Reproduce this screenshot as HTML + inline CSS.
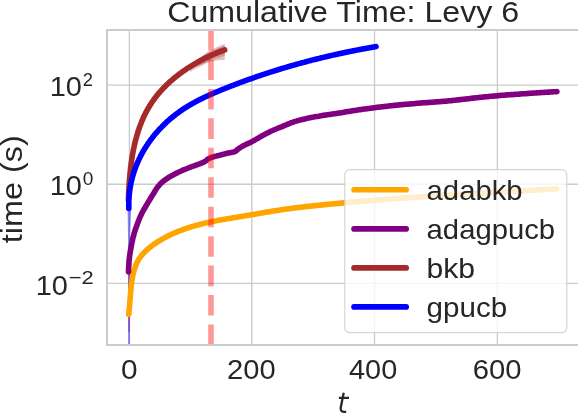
<!DOCTYPE html>
<html><head><meta charset="utf-8"><style>html,body{margin:0;padding:0;background:#fff}svg{display:block}text{font-family:"Liberation Sans",sans-serif;fill:#262626;filter:grayscale(1)}</style></head><body>
<svg width="578" height="418" viewBox="0 0 578 418">
<rect width="578" height="418" fill="#fff"/>
<defs><clipPath id="ax"><rect x="107" y="30" width="472" height="315"/></clipPath></defs>
<path d="M129.4,30V345M251.8,30V345M374.5,30V345M497.4,30V345M107,85.1H579M107,184.2H579M107,283.4H579" stroke="#cccccc" stroke-width="1.4" fill="none"/>
<g clip-path="url(#ax)" fill="none" stroke-linecap="round" stroke-linejoin="round" stroke-width="5.6">
<path d="M190,66 L198,60.5 L205,53.8 L211,50 L218,46.5 L224.8,43.8 L224.8,59.7 L218,60.3 L211.5,61.5 L206,63.5 L201,66 L195,69 L190,72 Z" fill="#a52a2a" fill-opacity="0.3" stroke="none"/>
<path d="M198,59 L203,55.5 L211,51.3 L224.8,45.3 L224.8,55.8 L211,60 L202,64.5 L198,66 Z" fill="#a52a2a" fill-opacity="0.3" stroke="none"/>
<path d="M127.5,206 L131.3,206 L130.6,222 L129.9,240 L129.9,345 L128.1,345 L128.1,240 Z" fill="#0000ff" fill-opacity="0.45" stroke="none"/>
<rect x="128.1" y="272" width="1.8" height="59.6" fill="#800080" fill-opacity="0.35" stroke="none"/>
<path d="M128.7,314.4 L128.9,313.3 L129.0,312.1 L129.1,310.9 L129.2,309.7 L129.3,308.5 L129.5,307.3 L129.6,306.1 L129.7,304.8 L129.7,303.6 L129.8,302.4 L129.9,301.2 L130.0,300.0 L130.1,298.7 L130.2,297.5 L130.3,296.3 L130.4,295.1 L130.5,293.8 L130.6,292.6 L130.7,291.4 L130.8,290.2 L130.9,288.9 L131.0,287.7 L131.2,286.5 L131.3,285.2 L131.4,284.0 L131.6,282.8 L131.8,281.6 L132.0,280.4 L132.2,279.1 L132.4,277.9 L132.6,276.7 L132.8,275.5 L133.1,274.3 L133.4,273.1 L133.7,271.9 L134.0,270.7 L134.3,269.6 L134.7,268.4 L135.1,267.3 L135.5,266.1 L135.9,265.0 L136.4,263.9 L136.9,262.8 L137.4,261.7 L138.0,260.7 L138.6,259.6 L139.2,258.6 L139.9,257.6 L140.6,256.7 L141.3,255.7 L142.1,254.8 L142.9,253.9 L143.7,253.0 L144.5,252.1 L145.4,251.3 L146.3,250.5 L147.2,249.6 L148.1,248.8 L149.0,248.0 L150.0,247.3 L151.0,246.5 L152.0,245.8 L152.9,245.1 L153.9,244.3 L155.0,243.6 L156.0,242.9 L157.0,242.3 L158.0,241.6 L159.1,240.9 L160.1,240.3 L161.2,239.7 L162.2,239.1 L163.3,238.5 L164.4,237.9 L165.5,237.3 L166.6,236.7 L167.6,236.1 L168.7,235.6 L169.8,235.1 L171.0,234.5 L172.1,234.0 L173.2,233.5 L174.3,233.0 L175.4,232.5 L176.6,232.1 L177.7,231.6 L178.8,231.1 L180.0,230.7 L181.1,230.3 L182.3,229.8 L183.4,229.4 L184.6,229.0 L185.7,228.6 L186.9,228.2 L188.0,227.8 L189.2,227.5 L190.3,227.1 L191.5,226.7 L192.7,226.4 L193.8,226.1 L195.0,225.7 L196.2,225.4 L197.4,225.1 L198.5,224.8 L199.7,224.5 L200.9,224.2 L202.1,223.9 L203.3,223.6 L204.4,223.3 L205.6,223.0 L206.8,222.8 L208.0,222.5 L209.2,222.2 L210.4,222.0 L211.6,221.7 L212.8,221.5 L214.0,221.2 L215.2,221.0 L216.4,220.8 L217.6,220.5 L218.8,220.3 L220.0,220.1 L221.2,219.9 L222.4,219.6 L223.6,219.4 L224.8,219.2 L226.0,219.0 L227.2,218.8 L228.4,218.6 L229.6,218.4 L230.8,218.2 L232.0,218.0 L233.2,217.8 L234.4,217.6 L235.6,217.4 L236.8,217.2 L238.0,217.0 L239.2,216.8 L240.4,216.6 L241.7,216.4 L242.9,216.2 L244.1,216.0 L245.3,215.8 L246.5,215.6 L247.7,215.4 L248.9,215.2 L250.1,215.0 L251.3,214.8 L252.5,214.6 L253.7,214.4 L254.9,214.2 L256.1,214.0 L257.3,213.8 L258.5,213.6 L259.7,213.4 L260.9,213.1 L262.1,212.9 L263.3,212.7 L264.5,212.5 L265.8,212.3 L267.0,212.1 L268.2,211.9 L269.4,211.7 L270.6,211.5 L271.8,211.3 L273.0,211.1 L274.2,210.9 L275.4,210.7 L276.6,210.5 L277.8,210.4 L279.0,210.2 L280.2,210.0 L281.4,209.8 L282.6,209.6 L283.8,209.4 L285.0,209.3 L286.2,209.1 L287.4,208.9 L288.7,208.7 L289.9,208.6 L291.1,208.4 L292.3,208.2 L293.5,208.1 L294.7,207.9 L295.9,207.8 L297.1,207.6 L298.3,207.5 L299.5,207.3 L300.8,207.2 L302.0,207.1 L303.2,206.9 L304.4,206.8 L305.6,206.6 L306.8,206.5 L308.0,206.4 L309.3,206.2 L310.5,206.1 L311.7,206.0 L312.9,205.9 L314.1,205.7 L315.3,205.6 L316.5,205.5 L317.8,205.4 L319.0,205.2 L320.2,205.1 L321.4,205.0 L322.6,204.9 L323.8,204.8 L325.1,204.6 L326.3,204.5 L327.5,204.4 L328.7,204.3 L329.9,204.2 L331.1,204.0 L332.3,203.9 L333.6,203.8 L334.8,203.7 L336.0,203.6 L337.2,203.5 L338.4,203.4 L339.6,203.2 L340.9,203.1 L342.1,203.0 L343.3,202.9 L344.5,202.8 L345.7,202.7 L346.9,202.6 L348.2,202.5 L349.4,202.4 L350.6,202.3 L351.8,202.1 L353.0,202.0 L354.2,201.9 L355.5,201.8 L356.7,201.7 L357.9,201.6 L359.1,201.5 L360.3,201.4 L361.5,201.3 L362.8,201.2 L364.0,201.1 L365.2,201.0 L366.4,200.9 L367.6,200.8 L368.8,200.7 L370.1,200.6 L371.3,200.5 L372.5,200.4 L373.7,200.3 L374.9,200.2 L376.1,200.1 L377.4,200.0 L378.6,199.9 L379.8,199.8 L381.0,199.7 L382.2,199.6 L383.4,199.6 L384.7,199.5 L385.9,199.4 L387.1,199.3 L388.3,199.2 L389.5,199.1 L390.8,199.0 L392.0,198.9 L393.2,198.8 L394.4,198.7 L395.6,198.6 L396.8,198.6 L398.1,198.5 L399.3,198.4 L400.5,198.3 L401.7,198.2 L402.9,198.1 L404.1,198.0 L405.4,197.9 L406.6,197.9 L407.8,197.8 L409.0,197.7 L410.2,197.6 L411.5,197.5 L412.7,197.4 L413.9,197.3 L415.1,197.3 L416.3,197.2 L417.5,197.1 L418.8,197.0 L420.0,196.9 L421.2,196.9 L422.4,196.8 L423.6,196.7 L424.9,196.6 L426.1,196.5 L427.3,196.4 L428.5,196.4 L429.7,196.3 L430.9,196.2 L432.2,196.1 L433.4,196.1 L434.6,196.0 L435.8,195.9 L437.0,195.8 L438.3,195.7 L439.5,195.7 L440.7,195.6 L441.9,195.5 L443.1,195.4 L444.4,195.4 L445.6,195.3 L446.8,195.2 L448.0,195.1 L449.2,195.1 L450.4,195.0 L451.7,194.9 L452.9,194.8 L454.1,194.8 L455.3,194.7 L456.5,194.6 L457.8,194.5 L459.0,194.5 L460.2,194.4 L461.4,194.3 L462.6,194.2 L463.9,194.2 L465.1,194.1 L466.3,194.0 L467.5,193.9 L468.7,193.9 L469.9,193.8 L471.2,193.7 L472.4,193.7 L473.6,193.6 L474.8,193.5 L476.0,193.4 L477.3,193.4 L478.5,193.3 L479.7,193.2 L480.9,193.2 L482.1,193.1 L483.4,193.0 L484.6,192.9 L485.8,192.9 L487.0,192.8 L488.2,192.7 L489.5,192.7 L490.7,192.6 L491.9,192.5 L493.1,192.4 L494.3,192.4 L495.5,192.3 L496.8,192.2 L498.0,192.2 L499.2,192.1 L500.4,192.0 L501.6,192.0 L502.9,191.9 L504.1,191.8 L505.3,191.7 L506.5,191.7 L507.7,191.6 L509.0,191.5 L510.2,191.5 L511.4,191.4 L512.6,191.3 L513.8,191.3 L515.1,191.2 L516.3,191.1 L517.5,191.0 L518.7,191.0 L519.9,190.9 L521.1,190.8 L522.4,190.8 L523.6,190.7 L524.8,190.6 L526.0,190.6 L527.2,190.5 L528.5,190.4 L529.7,190.3 L530.9,190.3 L532.1,190.2 L533.3,190.1 L534.6,190.1 L535.8,190.0 L537.0,189.9 L538.2,189.9 L539.4,189.8 L540.7,189.7 L541.9,189.6 L543.1,189.6 L544.3,189.5 L545.5,189.4 L546.7,189.4 L548.0,189.3 L549.2,189.2 L550.4,189.1 L551.6,189.1 L552.8,189.0 L554.1,188.9 L555.3,188.9 L556.5,188.8" stroke="#ffa500"/>
<path d="M128.5,271.8 L128.5,270.5 L128.6,269.2 L128.6,268.0 L128.7,266.7 L128.8,265.4 L128.9,264.2 L128.9,262.9 L129.0,261.6 L129.1,260.3 L129.3,259.1 L129.4,257.8 L129.6,256.5 L129.7,255.3 L129.9,254.0 L130.1,252.8 L130.3,251.5 L130.5,250.2 L130.8,249.0 L131.0,247.7 L131.2,246.5 L131.4,245.2 L131.7,244.0 L131.9,242.7 L132.2,241.5 L132.5,240.2 L132.7,239.0 L133.0,237.7 L133.3,236.5 L133.7,235.3 L134.0,234.0 L134.3,232.8 L134.7,231.6 L135.1,230.4 L135.5,229.2 L135.9,228.0 L136.4,226.8 L136.8,225.6 L137.2,224.4 L137.7,223.2 L138.1,222.0 L138.6,220.8 L139.1,219.6 L139.5,218.4 L140.0,217.2 L140.5,216.1 L141.1,214.9 L141.6,213.8 L142.2,212.6 L142.8,211.5 L143.4,210.4 L144.0,209.3 L144.7,208.2 L145.3,207.1 L146.0,206.0 L146.6,204.9 L147.3,203.8 L147.9,202.7 L148.6,201.6 L149.2,200.5 L149.9,199.4 L150.6,198.3 L151.2,197.2 L151.9,196.1 L152.6,195.1 L153.3,194.0 L153.9,192.9 L154.6,191.8 L155.2,190.7 L155.9,189.6 L156.6,188.5 L157.3,187.5 L158.1,186.5 L158.9,185.5 L159.8,184.5 L160.7,183.6 L161.6,182.7 L162.5,181.9 L163.5,181.1 L164.5,180.3 L165.6,179.6 L166.6,178.8 L167.7,178.1 L168.7,177.4 L169.8,176.8 L170.9,176.1 L172.0,175.5 L173.2,174.9 L174.3,174.3 L175.4,173.7 L176.6,173.1 L177.7,172.6 L178.9,172.0 L180.0,171.5 L181.2,171.0 L182.3,170.4 L183.5,169.9 L184.7,169.5 L185.9,169.0 L187.1,168.5 L188.3,168.0 L189.4,167.5 L190.6,167.1 L191.8,166.6 L193.0,166.2 L194.2,165.8 L195.4,165.3 L196.6,164.9 L197.8,164.5 L199.0,164.0 L200.2,163.6 L201.4,163.1 L202.6,162.6 L203.7,162.1 L204.9,161.5 L205.9,160.8 L206.8,159.9 L207.8,159.1 L208.9,158.5 L210.1,158.0 L211.3,157.5 L212.5,157.1 L213.7,156.8 L215.0,156.4 L216.2,156.1 L217.4,155.8 L218.7,155.5 L219.9,155.2 L221.1,154.8 L222.4,154.5 L223.6,154.2 L224.8,153.9 L226.1,153.6 L227.3,153.3 L228.6,153.0 L229.8,152.7 L231.1,152.5 L232.4,152.2 L233.6,152.0 L234.8,151.6 L235.8,151.0 L236.8,150.2 L237.8,149.3 L238.8,148.5 L239.9,147.8 L241.0,147.1 L242.1,146.5 L243.2,145.8 L244.3,145.2 L245.4,144.7 L246.6,144.1 L247.8,143.6 L248.9,143.1 L250.1,142.6 L251.3,142.0 L252.4,141.4 L253.5,140.8 L254.6,140.2 L255.7,139.5 L256.8,138.9 L257.9,138.3 L259.0,137.6 L260.1,137.0 L261.2,136.3 L262.3,135.7 L263.4,135.1 L264.6,134.5 L265.7,133.9 L266.8,133.3 L268.0,132.7 L269.1,132.1 L270.2,131.6 L271.4,131.0 L272.6,130.5 L273.7,130.0 L274.9,129.5 L276.1,129.0 L277.3,128.5 L278.4,128.0 L279.6,127.5 L280.8,127.1 L282.0,126.6 L283.1,126.1 L284.3,125.6 L285.5,125.1 L286.7,124.7 L287.9,124.2 L289.1,123.7 L290.2,123.2 L291.4,122.7 L292.6,122.3 L293.8,121.8 L295.0,121.4 L296.2,121.1 L297.5,120.7 L298.7,120.4 L299.9,120.1 L301.2,119.8 L302.4,119.5 L303.6,119.2 L304.9,118.9 L306.1,118.6 L307.4,118.3 L308.6,118.1 L309.9,117.8 L311.1,117.6 L312.4,117.3 L313.6,117.1 L314.9,116.8 L316.2,116.6 L317.4,116.4 L318.7,116.2 L319.9,115.9 L321.2,115.7 L322.4,115.5 L323.7,115.3 L325.0,115.1 L326.2,115.0 L327.5,114.8 L328.7,114.6 L330.0,114.4 L331.3,114.2 L332.5,114.0 L333.8,113.8 L335.0,113.7 L336.3,113.5 L337.6,113.3 L338.8,113.1 L340.1,112.9 L341.4,112.7 L342.6,112.5 L343.9,112.3 L345.1,112.0 L346.4,111.8 L347.6,111.6 L348.9,111.4 L350.2,111.2 L351.4,111.0 L352.7,110.8 L353.9,110.6 L355.2,110.4 L356.4,110.2 L357.7,110.0 L359.0,109.8 L360.2,109.6 L361.5,109.5 L362.8,109.3 L364.0,109.1 L365.3,108.9 L366.5,108.7 L367.8,108.6 L369.1,108.4 L370.3,108.2 L371.6,108.1 L372.9,107.9 L374.1,107.7 L375.4,107.6 L376.7,107.4 L377.9,107.3 L379.2,107.1 L380.5,107.0 L381.7,106.8 L383.0,106.7 L384.3,106.5 L385.5,106.4 L386.8,106.2 L388.1,106.1 L389.3,105.9 L390.6,105.8 L391.9,105.7 L393.1,105.5 L394.4,105.4 L395.7,105.3 L396.9,105.1 L398.2,105.0 L399.5,104.9 L400.7,104.8 L402.0,104.6 L403.3,104.5 L404.5,104.4 L405.8,104.3 L407.1,104.2 L408.4,104.1 L409.6,104.0 L410.9,103.9 L412.2,103.8 L413.4,103.7 L414.7,103.6 L416.0,103.4 L417.3,103.3 L418.5,103.2 L419.8,103.1 L421.1,103.0 L422.3,102.9 L423.6,102.8 L424.9,102.7 L426.2,102.6 L427.4,102.6 L428.7,102.5 L430.0,102.4 L431.2,102.3 L432.5,102.2 L433.8,102.1 L435.1,102.0 L436.3,101.9 L437.6,101.8 L438.9,101.7 L440.1,101.6 L441.4,101.5 L442.7,101.4 L444.0,101.3 L445.2,101.2 L446.5,101.1 L447.8,101.0 L449.0,100.8 L450.3,100.7 L451.6,100.6 L452.8,100.5 L454.1,100.3 L455.4,100.2 L456.6,100.0 L457.9,99.9 L459.2,99.8 L460.4,99.6 L461.7,99.5 L463.0,99.3 L464.2,99.2 L465.5,99.0 L466.8,98.9 L468.0,98.7 L469.3,98.6 L470.6,98.4 L471.8,98.3 L473.1,98.1 L474.4,98.0 L475.6,97.8 L476.9,97.7 L478.2,97.6 L479.4,97.4 L480.7,97.3 L482.0,97.2 L483.2,97.0 L484.5,96.9 L485.8,96.8 L487.1,96.7 L488.3,96.6 L489.6,96.4 L490.9,96.3 L492.1,96.2 L493.4,96.1 L494.7,96.0 L495.9,95.9 L497.2,95.7 L498.5,95.6 L499.8,95.5 L501.0,95.4 L502.3,95.3 L503.6,95.2 L504.8,95.1 L506.1,95.0 L507.4,94.9 L508.7,94.8 L509.9,94.7 L511.2,94.6 L512.5,94.6 L513.7,94.5 L515.0,94.4 L516.3,94.3 L517.6,94.2 L518.8,94.1 L520.1,94.0 L521.4,93.9 L522.6,93.8 L523.9,93.7 L525.2,93.7 L526.5,93.6 L527.7,93.5 L529.0,93.4 L530.3,93.3 L531.5,93.2 L532.8,93.1 L534.1,93.0 L535.4,93.0 L536.6,92.9 L537.9,92.8 L539.2,92.7 L540.5,92.6 L541.7,92.5 L543.0,92.5 L544.3,92.4 L545.5,92.3 L546.8,92.2 L548.1,92.1 L549.4,92.1 L550.6,92.0 L551.9,91.9 L553.2,91.8 L554.5,91.8 L555.7,91.7 L557.0,91.6" stroke="#800080"/>
<path d="M128.4,199.9 L128.5,199.4 L128.5,198.9 L128.5,198.5 L128.5,198.0 L128.5,197.5 L128.5,197.1 L128.6,196.6 L128.6,196.1 L128.6,195.7 L128.6,195.2 L128.6,194.7 L128.7,194.2 L128.7,193.8 L128.7,193.3 L128.7,192.8 L128.7,192.4 L128.8,191.9 L128.8,191.4 L128.8,190.9 L128.8,190.5 L128.8,190.0 L128.9,189.5 L128.9,189.0 L128.9,188.6 L128.9,188.1 L129.0,187.6 L129.0,187.1 L129.0,186.7 L129.1,186.2 L129.1,185.7 L129.1,185.2 L129.1,184.7 L129.2,184.3 L129.2,183.8 L129.2,183.3 L129.3,182.8 L129.3,182.3 L129.3,181.9 L129.4,181.4 L129.4,180.9 L129.4,180.4 L129.5,179.9 L129.5,179.4 L129.6,179.0 L129.6,178.5 L129.6,178.0 L129.7,177.5 L129.7,177.0 L129.8,176.5 L129.8,176.1 L129.8,175.6 L129.9,175.1 L129.9,174.6 L130.0,174.1 L130.0,173.6 L130.1,173.2 L130.1,172.7 L130.2,172.2 L130.2,171.7 L130.3,171.2 L130.3,170.7 L130.4,170.2 L130.4,169.8 L130.5,169.3 L130.5,168.8 L130.6,168.3 L130.6,167.8 L130.7,167.3 L130.7,166.8 L130.8,166.4 L130.9,165.9 L130.9,165.4 L131.0,164.9 L131.1,164.4 L131.1,163.9 L131.2,163.4 L131.2,163.0 L131.3,162.5 L131.4,162.0 L131.4,161.5 L131.5,161.0 L131.6,160.5 L131.7,160.1 L131.7,159.6 L131.8,159.1 L131.9,158.6 L132.0,158.1 L132.0,157.6 L132.1,157.1 L132.2,156.7 L132.3,156.2 L132.3,155.7 L132.4,155.2 L132.5,154.7 L132.6,154.2 L132.7,153.8 L132.8,153.3 L132.9,152.8 L132.9,152.3 L133.0,151.8 L133.1,151.4 L133.2,150.9 L133.3,150.4 L133.4,149.9 L133.5,149.4 L133.6,148.9 L133.7,148.5 L133.8,148.0 L133.9,147.5 L134.0,147.0 L134.1,146.6 L134.2,146.1 L134.3,145.6 L134.4,145.1 L134.5,144.6 L134.6,144.2 L134.7,143.7 L134.9,143.2 L135.0,142.7 L135.1,142.3 L135.2,141.8 L135.3,141.3 L135.4,140.8 L135.6,140.4 L135.7,139.9 L135.8,139.4 L135.9,139.0 L136.0,138.5 L136.2,138.0 L136.3,137.6 L136.4,137.1 L136.6,136.6 L136.7,136.1 L136.8,135.7 L137.0,135.2 L137.1,134.7 L137.2,134.3 L137.4,133.8 L137.5,133.4 L137.7,132.9 L137.8,132.4 L137.9,132.0 L138.1,131.5 L138.2,131.0 L138.4,130.6 L138.5,130.1 L138.7,129.7 L138.9,129.2 L139.0,128.7 L139.2,128.3 L139.3,127.8 L139.5,127.4 L139.6,126.9 L139.8,126.5 L140.0,126.0 L140.1,125.6 L140.3,125.1 L140.5,124.7 L140.7,124.2 L140.8,123.8 L141.0,123.3 L141.2,122.9 L141.4,122.4 L141.5,122.0 L141.7,121.5 L141.9,121.1 L142.1,120.6 L142.3,120.2 L142.5,119.8 L142.7,119.3 L142.8,118.9 L143.0,118.4 L143.2,118.0 L143.4,117.6 L143.6,117.1 L143.8,116.7 L144.0,116.3 L144.2,115.8 L144.4,115.4 L144.7,115.0 L144.9,114.5 L145.1,114.1 L145.3,113.7 L145.5,113.3 L145.7,112.8 L145.9,112.4 L146.2,112.0 L146.4,111.6 L146.6,111.1 L146.8,110.7 L147.1,110.3 L147.3,109.9 L147.5,109.5 L147.8,109.1 L148.0,108.6 L148.2,108.2 L148.5,107.8 L148.7,107.4 L149.0,107.0 L149.2,106.6 L149.5,106.2 L149.7,105.8 L150.0,105.4 L150.2,105.0 L150.5,104.6 L150.7,104.2 L151.0,103.8 L151.2,103.4 L151.5,103.0 L151.8,102.6 L152.0,102.2 L152.3,101.8 L152.6,101.4 L152.9,101.0 L153.1,100.6 L153.4,100.2 L153.7,99.8 L154.0,99.4 L154.2,99.0 L154.5,98.7 L154.8,98.3 L155.1,97.9 L155.4,97.5 L155.7,97.1 L156.0,96.8 L156.3,96.4 L156.6,96.0 L156.9,95.6 L157.2,95.3 L157.5,94.9 L157.8,94.5 L158.1,94.1 L158.4,93.8 L158.7,93.4 L159.0,93.0 L159.3,92.7 L159.6,92.3 L159.9,91.9 L160.3,91.6 L160.6,91.2 L160.9,90.9 L161.2,90.5 L161.6,90.2 L161.9,89.8 L162.2,89.4 L162.5,89.1 L162.9,88.7 L163.2,88.4 L163.5,88.0 L163.9,87.7 L164.2,87.3 L164.5,87.0 L164.9,86.7 L165.2,86.3 L165.6,86.0 L165.9,85.6 L166.2,85.3 L166.6,85.0 L166.9,84.6 L167.3,84.3 L167.6,83.9 L168.0,83.6 L168.3,83.3 L168.7,83.0 L169.0,82.6 L169.4,82.3 L169.8,82.0 L170.1,81.6 L170.5,81.3 L170.8,81.0 L171.2,80.7 L171.6,80.4 L171.9,80.0 L172.3,79.7 L172.7,79.4 L173.1,79.1 L173.4,78.8 L173.8,78.5 L174.2,78.1 L174.5,77.8 L174.9,77.5 L175.3,77.2 L175.7,76.9 L176.1,76.6 L176.4,76.3 L176.8,76.0 L177.2,75.7 L177.6,75.4 L178.0,75.1 L178.4,74.8 L178.7,74.5 L179.1,74.2 L179.5,73.9 L179.9,73.6 L180.3,73.3 L180.7,73.0 L181.1,72.8 L181.5,72.5 L181.9,72.2 L182.3,71.9 L182.7,71.6 L183.1,71.3 L183.5,71.0 L183.9,70.8 L184.3,70.5 L184.7,70.2 L185.1,69.9 L185.5,69.7 L185.9,69.4 L186.3,69.1 L186.7,68.8 L187.1,68.6 L187.5,68.3 L187.9,68.0 L188.3,67.8 L188.8,67.5 L189.2,67.2 L189.6,67.0 L190.0,66.7 L190.4,66.4 L190.8,66.2 L191.2,65.9 L191.7,65.7 L192.1,65.4 L192.5,65.2 L192.9,64.9 L193.3,64.7 L193.8,64.4 L194.2,64.2 L194.6,63.9 L195.0,63.7 L195.4,63.4 L195.9,63.2 L196.3,62.9 L196.7,62.7 L197.1,62.4 L197.6,62.2 L198.0,62.0 L198.4,61.7 L198.9,61.5 L199.3,61.3 L199.7,61.0 L200.1,60.8 L200.6,60.6 L201.0,60.3 L201.4,60.1 L201.9,59.9 L202.3,59.7 L202.7,59.4 L203.2,59.2 L203.6,59.0 L204.0,58.8 L204.5,58.6 L204.9,58.3 L205.3,58.1 L205.8,57.9 L206.2,57.7 L206.6,57.5 L207.1,57.3 L207.5,57.1 L208.0,56.9 L208.4,56.6 L208.8,56.4 L209.3,56.2 L209.7,56.0 L210.1,55.8 L210.6,55.6 L211.0,55.4 L211.5,55.2 L211.9,55.0 L212.3,54.8 L212.8,54.6 L213.2,54.5 L213.7,54.3 L214.1,54.1 L214.5,53.9 L215.0,53.7 L215.4,53.5 L215.9,53.3 L216.3,53.1 L216.8,53.0 L217.2,52.8 L217.6,52.6 L218.1,52.4 L218.5,52.2 L219.0,52.1 L219.4,51.9 L219.9,51.7 L220.3,51.5 L220.7,51.4 L221.2,51.2 L221.6,51.0 L222.1,50.9 L222.5,50.7 L223.0,50.5 L223.4,50.4 L223.8,50.2 L224.3,50.0 L224.7,49.9" stroke="#a52a2a"/>
<path d="M128.8,208.5 L128.8,207.7 L128.8,206.8 L128.8,206.0 L128.8,205.1 L128.8,204.3 L128.8,203.4 L128.8,202.6 L128.8,201.7 L128.8,200.9 L128.9,200.0 L128.9,199.2 L129.0,198.4 L129.0,197.5 L129.1,196.7 L129.1,195.9 L129.2,195.0 L129.3,194.2 L129.4,193.4 L129.5,192.6 L129.6,191.8 L129.7,190.9 L129.8,190.1 L129.9,189.3 L130.0,188.5 L130.1,187.7 L130.3,186.9 L130.4,186.1 L130.6,185.3 L130.7,184.5 L130.9,183.7 L131.0,182.9 L131.2,182.1 L131.4,181.3 L131.6,180.5 L131.8,179.7 L132.0,178.9 L132.2,178.1 L132.4,177.3 L132.6,176.5 L132.8,175.8 L133.0,175.0 L133.3,174.2 L133.5,173.4 L133.7,172.7 L134.0,171.9 L134.2,171.1 L134.5,170.4 L134.8,169.6 L135.0,168.9 L135.3,168.1 L135.6,167.4 L135.9,166.6 L136.2,165.9 L136.5,165.1 L136.8,164.4 L137.1,163.6 L137.4,162.9 L137.7,162.2 L138.0,161.4 L138.4,160.7 L138.7,160.0 L139.0,159.2 L139.4,158.5 L139.7,157.8 L140.1,157.1 L140.4,156.4 L140.8,155.7 L141.2,155.0 L141.6,154.2 L141.9,153.5 L142.3,152.8 L142.7,152.1 L143.1,151.4 L143.5,150.8 L143.9,150.1 L144.3,149.4 L144.7,148.7 L145.1,148.0 L145.6,147.3 L146.0,146.7 L146.4,146.0 L146.9,145.3 L147.3,144.7 L147.7,144.0 L148.2,143.3 L148.7,142.7 L149.1,142.0 L149.6,141.4 L150.0,140.7 L150.5,140.1 L151.0,139.4 L151.5,138.8 L152.0,138.2 L152.4,137.5 L152.9,136.9 L153.4,136.3 L153.9,135.7 L154.4,135.0 L154.9,134.4 L155.5,133.8 L156.0,133.2 L156.5,132.6 L157.0,132.0 L157.6,131.4 L158.1,130.8 L158.6,130.2 L159.2,129.6 L159.7,129.0 L160.3,128.4 L160.8,127.8 L161.4,127.3 L161.9,126.7 L162.5,126.1 L163.1,125.6 L163.6,125.0 L164.2,124.4 L164.8,123.9 L165.4,123.3 L165.9,122.8 L166.5,122.2 L167.1,121.7 L167.7,121.1 L168.3,120.6 L168.9,120.1 L169.5,119.6 L170.1,119.0 L170.7,118.5 L171.4,118.0 L172.0,117.5 L172.6,117.0 L173.2,116.5 L173.8,116.0 L174.5,115.5 L175.1,115.0 L175.7,114.5 L176.4,114.0 L177.0,113.5 L177.7,113.0 L178.3,112.6 L179.0,112.1 L179.6,111.6 L180.3,111.1 L180.9,110.7 L181.6,110.2 L182.3,109.8 L182.9,109.3 L183.6,108.9 L184.3,108.4 L184.9,108.0 L185.6,107.6 L186.3,107.2 L187.0,106.7 L187.7,106.3 L188.4,105.9 L189.1,105.5 L189.7,105.1 L190.4,104.7 L191.1,104.3 L191.8,103.9 L192.5,103.5 L193.2,103.1 L193.9,102.7 L194.7,102.3 L195.4,101.9 L196.1,101.5 L196.8,101.1 L197.5,100.8 L198.2,100.4 L198.9,100.0 L199.7,99.7 L200.4,99.3 L201.1,98.9 L201.8,98.6 L202.6,98.2 L203.3,97.9 L204.0,97.5 L204.7,97.2 L205.5,96.8 L206.2,96.5 L206.9,96.1 L207.7,95.8 L208.4,95.5 L209.2,95.1 L209.9,94.8 L210.6,94.5 L211.4,94.1 L212.1,93.8 L212.9,93.5 L213.6,93.2 L214.4,92.9 L215.1,92.5 L215.8,92.2 L216.6,91.9 L217.3,91.6 L218.1,91.3 L218.8,91.0 L219.6,90.7 L220.3,90.3 L221.1,90.0 L221.8,89.7 L222.6,89.4 L223.4,89.1 L224.1,88.8 L224.9,88.5 L225.6,88.2 L226.4,87.9 L227.1,87.6 L227.9,87.3 L228.6,87.0 L229.4,86.7 L230.1,86.4 L230.9,86.1 L231.6,85.8 L232.4,85.6 L233.2,85.3 L233.9,85.0 L234.7,84.7 L235.4,84.4 L236.2,84.1 L236.9,83.8 L237.7,83.5 L238.4,83.3 L239.2,83.0 L240.0,82.7 L240.7,82.4 L241.5,82.1 L242.2,81.8 L243.0,81.6 L243.7,81.3 L244.5,81.0 L245.3,80.7 L246.0,80.5 L246.8,80.2 L247.5,79.9 L248.3,79.6 L249.1,79.4 L249.8,79.1 L250.6,78.8 L251.3,78.6 L252.1,78.3 L252.9,78.0 L253.6,77.8 L254.4,77.5 L255.1,77.2 L255.9,77.0 L256.7,76.7 L257.4,76.4 L258.2,76.2 L259.0,75.9 L259.7,75.7 L260.5,75.4 L261.2,75.1 L262.0,74.9 L262.8,74.6 L263.5,74.4 L264.3,74.1 L265.1,73.9 L265.8,73.6 L266.6,73.4 L267.4,73.1 L268.1,72.9 L268.9,72.6 L269.7,72.4 L270.4,72.1 L271.2,71.9 L272.0,71.6 L272.7,71.4 L273.5,71.2 L274.3,70.9 L275.0,70.7 L275.8,70.4 L276.6,70.2 L277.3,70.0 L278.1,69.7 L278.9,69.5 L279.6,69.2 L280.4,69.0 L281.2,68.8 L281.9,68.5 L282.7,68.3 L283.5,68.1 L284.2,67.9 L285.0,67.6 L285.8,67.4 L286.6,67.2 L287.3,66.9 L288.1,66.7 L288.9,66.5 L289.6,66.3 L290.4,66.0 L291.2,65.8 L292.0,65.6 L292.7,65.4 L293.5,65.2 L294.3,64.9 L295.1,64.7 L295.8,64.5 L296.6,64.3 L297.4,64.1 L298.1,63.9 L298.9,63.6 L299.7,63.4 L300.5,63.2 L301.2,63.0 L302.0,62.8 L302.8,62.6 L303.6,62.4 L304.4,62.2 L305.1,62.0 L305.9,61.8 L306.7,61.5 L307.5,61.3 L308.2,61.1 L309.0,60.9 L309.8,60.7 L310.6,60.5 L311.3,60.3 L312.1,60.1 L312.9,59.9 L313.7,59.7 L314.5,59.5 L315.2,59.3 L316.0,59.1 L316.8,59.0 L317.6,58.8 L318.4,58.6 L319.1,58.4 L319.9,58.2 L320.7,58.0 L321.5,57.8 L322.3,57.6 L323.1,57.4 L323.8,57.2 L324.6,57.1 L325.4,56.9 L326.2,56.7 L327.0,56.5 L327.7,56.3 L328.5,56.1 L329.3,56.0 L330.1,55.8 L330.9,55.6 L331.7,55.4 L332.5,55.2 L333.2,55.1 L334.0,54.9 L334.8,54.7 L335.6,54.5 L336.4,54.4 L337.2,54.2 L338.0,54.0 L338.7,53.8 L339.5,53.7 L340.3,53.5 L341.1,53.3 L341.9,53.2 L342.7,53.0 L343.5,52.8 L344.3,52.7 L345.0,52.5 L345.8,52.3 L346.6,52.2 L347.4,52.0 L348.2,51.8 L349.0,51.7 L349.8,51.5 L350.6,51.4 L351.4,51.2 L352.2,51.0 L353.0,50.9 L353.7,50.7 L354.5,50.6 L355.3,50.4 L356.1,50.3 L356.9,50.1 L357.7,49.9 L358.5,49.8 L359.3,49.6 L360.1,49.5 L360.9,49.3 L361.7,49.2 L362.5,49.0 L363.3,48.9 L364.1,48.7 L364.9,48.6 L365.7,48.5 L366.4,48.3 L367.2,48.2 L368.0,48.0 L368.8,47.9 L369.6,47.7 L370.4,47.6 L371.2,47.5 L372.0,47.3 L372.8,47.2 L373.6,47.0 L374.4,46.9 L375.2,46.8 L376.0,46.6" stroke="#0000ff"/>
<path d="M211,30V345" stroke="#ff0000" stroke-opacity="0.4" stroke-width="5.6" stroke-linecap="butt" stroke-dasharray="20.56 8.89"/>
</g>
<rect x="107" y="30" width="472" height="315" fill="none" stroke="#cccccc" stroke-width="2"/>
<rect x="344.8" y="169.7" width="222" height="163" rx="5" ry="5" fill="#fff" fill-opacity="0.8" stroke="#cccccc" stroke-opacity="0.8" stroke-width="1.2"/>
<path d="M354,189.8H406.2" stroke="#ffa500" stroke-width="5.6" stroke-linecap="round"/>
<text x="426.6" y="199.9" font-size="28.3" textLength="96" lengthAdjust="spacingAndGlyphs">adabkb</text>
<path d="M354,228.9H406.2" stroke="#800080" stroke-width="5.6" stroke-linecap="round"/>
<text x="426.6" y="239.0" font-size="28.3" textLength="128.5" lengthAdjust="spacingAndGlyphs">adagpucb</text>
<path d="M354,267.9H406.2" stroke="#a52a2a" stroke-width="5.6" stroke-linecap="round"/>
<text x="426.6" y="278.0" font-size="28.3" textLength="48.5" lengthAdjust="spacingAndGlyphs">bkb</text>
<path d="M354,306.9H406.2" stroke="#0000ff" stroke-width="5.6" stroke-linecap="round"/>
<text x="426.6" y="317.0" font-size="28.3" textLength="80.5" lengthAdjust="spacingAndGlyphs">gpucb</text>
<text x="167.2" y="21.8" font-size="30" textLength="352" lengthAdjust="spacingAndGlyphs">Cumulative Time: Levy 6</text>
<text x="120.89999999999999" y="379.1" font-size="28.3" textLength="16.6" lengthAdjust="spacingAndGlyphs">0</text>
<text x="227.0" y="379.1" font-size="28.3" textLength="48.6" lengthAdjust="spacingAndGlyphs">200</text>
<text x="349.0" y="379.1" font-size="28.3" textLength="48.2" lengthAdjust="spacingAndGlyphs">400</text>
<text x="472.8" y="379.1" font-size="28.3" textLength="48.8" lengthAdjust="spacingAndGlyphs">600</text>
<text x="49.7" y="96.19999999999999" font-size="28.5" textLength="32.2" lengthAdjust="spacingAndGlyphs">10</text>
<text x="82.8" y="85.5" font-size="19.2" textLength="10.2" lengthAdjust="spacingAndGlyphs">2</text>
<text x="49.7" y="195.4" font-size="28.5" textLength="32.2" lengthAdjust="spacingAndGlyphs">10</text>
<text x="82.8" y="184.70000000000002" font-size="19.2" textLength="10.6" lengthAdjust="spacingAndGlyphs">0</text>
<text x="35.7" y="294.6" font-size="28.5" textLength="32.2" lengthAdjust="spacingAndGlyphs">10</text>
<text x="68.8" y="283.9" font-size="19.2" textLength="25" lengthAdjust="spacingAndGlyphs">−2</text>
<path d="M343.7,392.8 L340.8,407.3 Q339.9,411.8 343.9,411.8 L346.2,411.8 M338.9,397.9 H349" stroke="#262626" stroke-width="2.3" fill="none"/>
<text transform="translate(22,243.2) rotate(-90)" font-size="29.8" textLength="108" lengthAdjust="spacingAndGlyphs">time (s)</text>
</svg></body></html>
